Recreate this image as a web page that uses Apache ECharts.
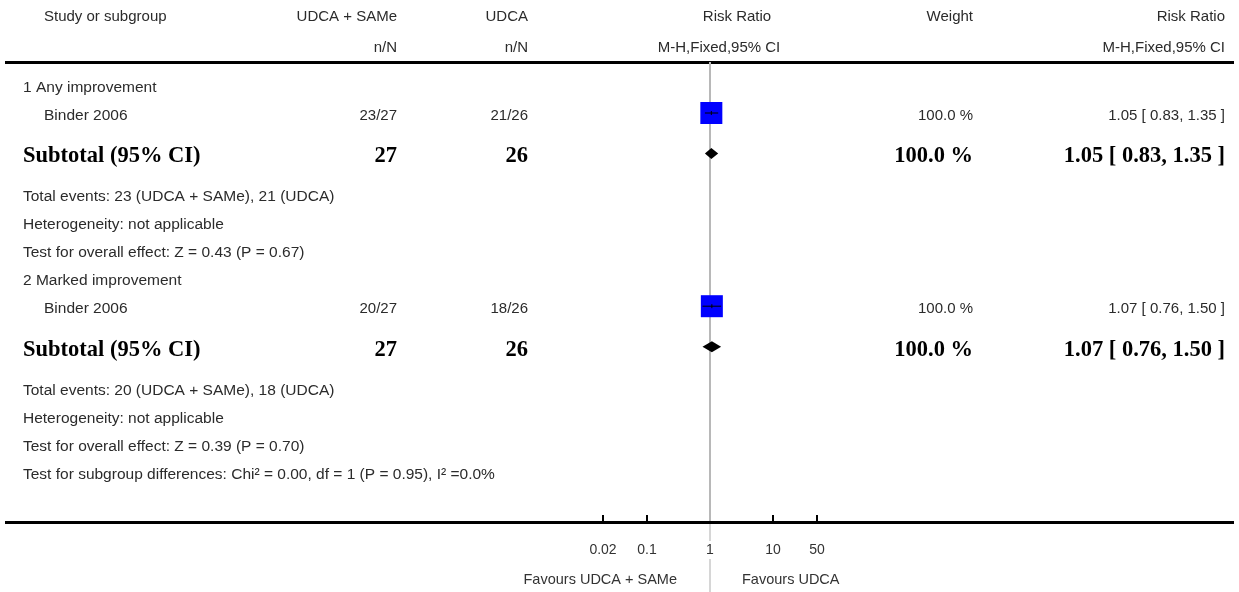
<!DOCTYPE html>
<html><head><meta charset="utf-8">
<script src="https://cdn.jsdelivr.net/npm/echarts@6/dist/echarts.min.js"></script>
<style>html,body{margin:0;padding:0;background:#fff}#c{width:1239px;height:592px}</style>
</head><body><div id="c"></div>
<script>
// ---------------- data ----------------
const headerRow1 = ['Study or subgroup', 'UDCA + SAMe', 'UDCA', 'Risk Ratio', 'Weight', 'Risk Ratio'];
const headerRow2 = ['n/N', 'n/N', 'M-H,Fixed,95% CI', 'M-H,Fixed,95% CI'];
const expLabel = 'UDCA + SAMe';
const ctlLabel = 'UDCA';
const subgroupNames = ['1 Any improvement', '2 Marked improvement'];
const studyNames = ['Binder 2006', 'Binder 2006'];
const expEvents = [23, 20];
const expTotals = [27, 27];
const ctlEvents = [21, 18];
const ctlTotals = [26, 26];
const studyRR = [1.05, 1.07];
const studyLow = [0.83, 0.76];
const studyHigh = [1.35, 1.50];
const studyWeights = [100.0, 100.0];
const subtotalRR = [1.05, 1.07];
const subtotalLow = [0.83, 0.76];
const subtotalHigh = [1.35, 1.50];
const subtotalWeights = [100.0, 100.0];
const heterogeneity = ['not applicable', 'not applicable'];
const overallZ = ['0.43', '0.39'];
const overallP = ['0.67', '0.70'];
const subgroupTest = 'Test for subgroup differences: Chi\u00B2 = 0.00, df = 1 (P = 0.95), I\u00B2 =0.0%';
const axisMin = 0.02;
const axisMax = 50;
const tickValues = [0.02, 0.1, 1, 10, 50];
const favoursLeft = 'Favours UDCA + SAMe';
const favoursRight = 'Favours UDCA';

// ---------------- layout ----------------
const W = 1239, H = 592;
const GRID_TOP = 62, AXIS_Y = 522;
const FIRST_ROW_Y = 88, PITCH = 28, BOLD_EXTRA = 0.45, MARK_SHIFT = -3;
const X_NAME = 23, X_STUDY = 44, X_EXP = 397, X_CTL = 528, X_W = 973, X_CI = 1225;
const REG = '15.5px "Liberation Sans", Arial, sans-serif';
const HDR = '15px "Liberation Sans", Arial, sans-serif';
const BOLD = 'bold 22.5px "Liberation Serif", "Times New Roman", serif';
const TXT = '#2b2b2b';

// build rows
const rows = [];
let slot = 0;
function addRow(r) {
  if (r.bold) slot += BOLD_EXTRA;
  r.slot = slot;
  rows.push(r);
  if (r.bold) slot += BOLD_EXTRA;
  slot += 1;
}
const studySlots = [], subtotalSlots = [];
subgroupNames.forEach((name, g) => {
  addRow({ kind: 'title', text: name });
  addRow({ kind: 'study', g });
  studySlots.push(rows[rows.length - 1].slot);
  addRow({ kind: 'subtotal', g, bold: true });
  subtotalSlots.push(rows[rows.length - 1].slot);
  addRow({ kind: 'note', text: 'Total events: ' + expEvents[g] + ' (' + expLabel + '), ' + ctlEvents[g] + ' (' + ctlLabel + ')' });
  addRow({ kind: 'note', text: 'Heterogeneity: ' + heterogeneity[g] });
  addRow({ kind: 'note', text: 'Test for overall effect: Z = ' + overallZ[g] + ' (P = ' + overallP[g] + ')' });
});
addRow({ kind: 'note', text: subgroupTest });

const rowY = s => FIRST_ROW_Y + PITCH * s;
const markBase = FIRST_ROW_Y + MARK_SHIFT;
const yMin = (GRID_TOP - markBase) / PITCH;
const yMax = (AXIS_Y - markBase) / PITCH;
const ciText = (r, l, h) => r.toFixed(2) + ' [ ' + l.toFixed(2) + ', ' + h.toFixed(2) + ' ]';

function txt(x, y, text, align, font, fill) {
  return { type: 'text', x: x, y: y, silent: true,
    style: { text: text, align: align, verticalAlign: 'middle', font: font || REG, fill: fill || TXT } };
}

const graphics = [];
// header
graphics.push(txt(X_STUDY, 17, headerRow1[0], 'left', HDR));
graphics.push(txt(X_EXP, 17, headerRow1[1], 'right', HDR));
graphics.push(txt(X_CTL, 17, headerRow1[2], 'right', HDR));
graphics.push(txt(737, 17, headerRow1[3], 'center', HDR));
graphics.push(txt(X_W, 17, headerRow1[4], 'right', HDR));
graphics.push(txt(X_CI, 17, headerRow1[5], 'right', HDR));
graphics.push(txt(X_EXP, 48, headerRow2[0], 'right', HDR));
graphics.push(txt(X_CTL, 48, headerRow2[1], 'right', HDR));
graphics.push(txt(719, 48, headerRow2[2], 'center', HDR));
graphics.push(txt(X_CI, 48, headerRow2[3], 'right', HDR));
graphics.push({ type: 'line', silent: true, shape: { x1: 5, y1: GRID_TOP + 0.5, x2: W - 5, y2: GRID_TOP + 0.5 }, style: { stroke: '#000', lineWidth: 3 } });
graphics.push({ type: 'line', silent: true, z: 10, shape: { x1: 5, y1: AXIS_Y + 0.5, x2: W - 5, y2: AXIS_Y + 0.5 }, style: { stroke: '#000', lineWidth: 3 } });

rows.forEach(r => {
  const y = rowY(r.slot);
  if (r.kind === 'title' || r.kind === 'note') {
    graphics.push(txt(X_NAME, y, r.text, 'left'));
  } else if (r.kind === 'study') {
    const g = r.g;
    graphics.push(txt(X_STUDY, y, studyNames[g], 'left'));
    graphics.push(txt(X_EXP, y, expEvents[g] + '/' + expTotals[g], 'right', HDR));
    graphics.push(txt(X_CTL, y, ctlEvents[g] + '/' + ctlTotals[g], 'right', HDR));
    graphics.push(txt(X_W, y, studyWeights[g].toFixed(1) + ' %', 'right', HDR));
    graphics.push(txt(X_CI, y, ciText(studyRR[g], studyLow[g], studyHigh[g]), 'right', HDR));
  } else if (r.kind === 'subtotal') {
    const g = r.g;
    graphics.push(txt(X_NAME, y, 'Subtotal (95% CI)', 'left', BOLD, '#000'));
    graphics.push(txt(X_EXP, y, String(expTotals[g]), 'right', BOLD, '#000'));
    graphics.push(txt(X_CTL, y, String(ctlTotals[g]), 'right', BOLD, '#000'));
    graphics.push(txt(X_W, y, subtotalWeights[g].toFixed(1) + ' %', 'right', BOLD, '#000'));
    graphics.push(txt(X_CI, y, ciText(subtotalRR[g], subtotalLow[g], subtotalHigh[g]), 'right', BOLD, '#000'));
  }
});
graphics.push(txt(677, 580, favoursLeft, 'right', '14.5px "Liberation Sans", Arial, sans-serif', '#333'));
graphics.push(txt(742, 580, favoursRight, 'left', '14.5px "Liberation Sans", Arial, sans-serif', '#333'));

const chart = echarts.init(document.getElementById('c'), null, { renderer: 'canvas' });
chart.setOption({
  animation: false,
  backgroundColor: '#fff',
  grid: { left: 603, right: W - 817, top: GRID_TOP, bottom: H - AXIS_Y, containLabel: false, outerBoundsMode: 'none' },
  xAxis: {
    type: 'log', logBase: 10, min: axisMin, max: axisMax,
    position: 'bottom', z: 6,
    axisLine: { show: false },
    axisTick: { show: false },
    axisLabel: { show: true, margin: 19, fontSize: 14, color: '#333', fontFamily: '"Liberation Sans", Arial, sans-serif',
      backgroundColor: '#fff', padding: [2, 2],
      showMinLabel: true, showMaxLabel: true,
      formatter: v => String(parseFloat(Number(v).toPrecision(6))) },
    splitLine: { show: false }
  },
  yAxis: { type: 'value', inverse: true, min: yMin, max: yMax, show: false },
  graphic: graphics,
  series: [
    { // axis ticks (drawn upward from the axis line)
      type: 'custom', z: 2, silent: true,
      data: tickValues.map(v => [v]),
      encode: { x: 0 },
      renderItem(params, api) {
        const cs = params.coordSys;
        const x = api.coord([api.value(0), 0])[0];
        const yb = cs.y + cs.height;
        return { type: 'line', shape: { x1: x, y1: yb, x2: x, y2: yb - 7 }, style: { stroke: '#000', lineWidth: 2 } };
      }
    },
    { // line of no effect
      type: 'custom', z: 3, silent: true, clip: false,
      data: [[1]],
      encode: { x: 0 },
      renderItem(params, api) {
        const cs = params.coordSys;
        const x = api.coord([api.value(0), 0])[0];
        return { type: 'group', children: [
          { type: 'line', shape: { x1: x, y1: cs.y, x2: x, y2: cs.y + cs.height }, style: { stroke: '#b8b8b8', lineWidth: 2 } },
          { type: 'line', shape: { x1: x, y1: cs.y + cs.height, x2: x, y2: H }, style: { stroke: '#d6d6d6', lineWidth: 2 } }
        ] };
      }
    },
    { // study squares
      type: 'scatter', z: 4, silent: true,
      symbol: 'rect',
      data: studyRR.map((v, i) => [v, studySlots[i], studyWeights[i]]),
      symbolSize: d => 22 * Math.sqrt(d[2] / 100),
      itemStyle: { color: '#0000ff', opacity: 1 }
    },
    { // study CIs
      type: 'custom', z: 5, silent: true,
      data: studyRR.map((v, i) => [studyLow[i], studyHigh[i], v, studySlots[i]]),
      encode: { x: [0, 1, 2], y: 3 },
      renderItem(params, api) {
        const a = api.coord([api.value(0), api.value(3)]);
        const b = api.coord([api.value(1), api.value(3)]);
        const c = api.coord([api.value(2), api.value(3)]);
        return { type: 'group', children: [
          { type: 'line', shape: { x1: a[0], y1: a[1], x2: b[0], y2: b[1] }, style: { stroke: '#000', lineWidth: 1 } },
          { type: 'line', shape: { x1: c[0], y1: c[1] - 2, x2: c[0], y2: c[1] + 2 }, style: { stroke: '#000', lineWidth: 1 } }
        ] };
      }
    },
    { // subtotal diamonds
      type: 'custom', z: 5, silent: true,
      data: subtotalRR.map((v, i) => [subtotalLow[i], subtotalHigh[i], v, subtotalSlots[i]]),
      encode: { x: [0, 1, 2], y: 3 },
      renderItem(params, api) {
        const a = api.coord([api.value(0), api.value(3)]);
        const b = api.coord([api.value(1), api.value(3)]);
        const c = api.coord([api.value(2), api.value(3)]);
        const h = 5.5;
        return { type: 'polygon', shape: { points: [a, [c[0], c[1] - h], b, [c[0], c[1] + h]] },
          style: { fill: '#000' } };
      }
    }
  ]
});
</script>
</body></html>
